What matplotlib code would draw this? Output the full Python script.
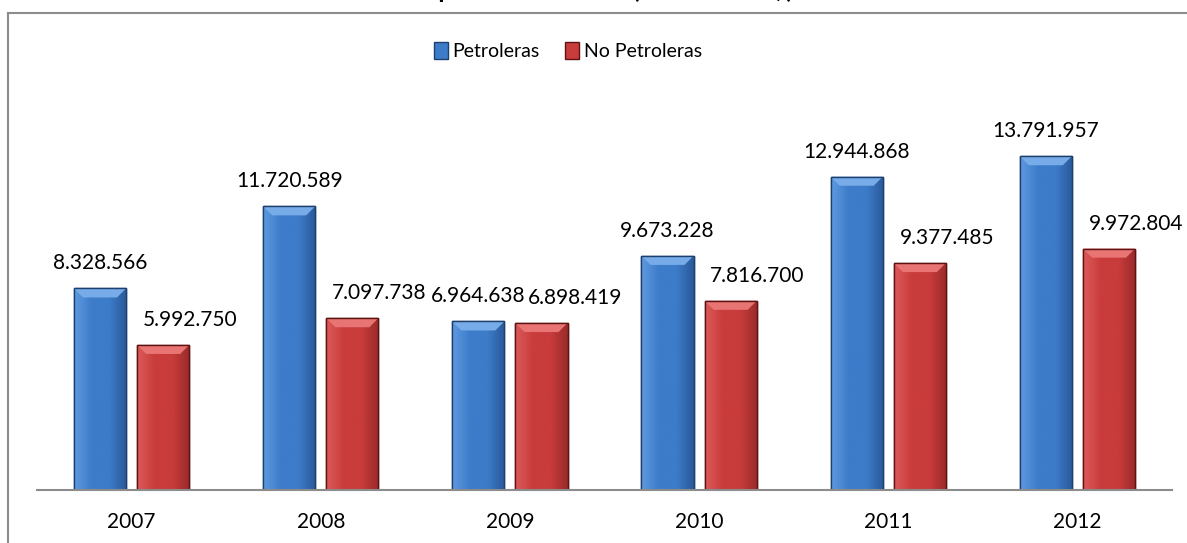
import numpy as np
import matplotlib
matplotlib.use("Agg")
import matplotlib.pyplot as plt
from matplotlib.lines import Line2D
from matplotlib.patches import Polygon, Patch
from matplotlib.colors import LinearSegmentedColormap

years = ["2007", "2008", "2009", "2010", "2011", "2012"]
petroleras = [8328566, 11720589, 6964638, 9673228, 12944868, 13791957]
no_petroleras = [5992750, 7097738, 6898419, 7816700, 9377485, 9972804]
series_names = ["Petroleras", "No Petroleras"]
title = "Exportaciones FOB (Miles de US$)"

def fmt(v):
    return f"{v:,}".replace(",", ".")

plt.rcParams['font.family'] = ['Lato', 'DejaVu Sans']

W, H = 1187, 543
fig = plt.figure(figsize=(W / 100, H / 100), dpi=100)
ax_l, ax_r, ax_b, ax_t = 37, 1172, 490, 65
ax = fig.add_axes([ax_l / W, 1 - ax_b / H, (ax_r - ax_l) / W, (ax_b - ax_t) / H])

x = np.arange(len(years))
bw = 0.275
off = 0.167
ymax = (ax_b - ax_t) / 24.2 * 1e6
ax.set_xlim(-0.5, len(years) - 0.5)
ax.set_ylim(0, ymax)

styles = [
    dict(face="#3d7cc9", light="#5f9ae0", dark="#2a5a9a", edge="#1d3f6e", bevel="#78ace8"),
    dict(face="#c93c3c", light="#dc5a5a", dark="#9a2a2a", edge="#5e1212", bevel="#e87474"),
]

px_per_x = (ax_r - ax_l) / len(years)
px_per_y = (ax_b - ax_t) / ymax

labels = {0: [], 1: []}
for si, (vals, st) in enumerate(zip([petroleras, no_petroleras], styles)):
    xs = x + (-off if si == 0 else off)
    bars = ax.bar(xs, vals, width=bw, color=st["face"], edgecolor=st["edge"],
                  linewidth=1.0, zorder=2, label=series_names[si])
    cmap = LinearSegmentedColormap.from_list("g", [st["light"], st["face"], st["face"], st["dark"]])
    grad = np.linspace(0, 1, 64).reshape(1, -1)
    for b in bars:
        x0, w_, h_ = b.get_x(), b.get_width(), b.get_height()
        im = ax.imshow(grad, cmap=cmap, aspect="auto", extent=(x0, x0 + w_, 0, h_),
                       zorder=2.1, interpolation="bicubic")
        im.set_clip_path(b)
        bx = 9 / px_per_x
        by = 9 / px_per_y
        poly = Polygon([(x0, h_), (x0 + w_, h_), (x0 + w_ - bx, h_ - by), (x0 + bx, h_ - by)],
                       closed=True, facecolor=st["bevel"], edgecolor="none", zorder=2.2)
        ax.add_patch(poly)
        ax.add_patch(Polygon([(x0, h_), (x0 + w_, h_), (x0 + w_, 0), (x0, 0)], closed=True,
                             facecolor="none", edgecolor=st["edge"], linewidth=1.0, zorder=2.3))
        if si == 0:
            t = ax.annotate(fmt(int(h_)), (x0 + w_ / 2, h_), xytext=(0, 18), textcoords="offset points",
                            ha="center", va="center", fontsize=15, color="#000000")
        else:
            t = ax.annotate(fmt(int(h_)), (x0 + 0.03, h_), xytext=(0, 18), textcoords="offset points",
                            ha="left", va="center", fontsize=15, color="#000000")
        labels[si].append(t)

for s in ["top", "right", "left"]:
    ax.spines[s].set_visible(False)
ax.spines["bottom"].set_color("#8c8c8c")
ax.spines["bottom"].set_linewidth(1.5)
ax.set_yticks([])
ax.set_xticks(x)
ax.set_xticklabels(years, fontsize=15)
ax.tick_params(axis="x", length=0, pad=16)
ax.patch.set_visible(False)

# avoid label overlap: push red labels right of blue labels when they collide
fig.canvas.draw()
r = fig.canvas.get_renderer()
for tb, tr in zip(labels[0], labels[1]):
    bb = tb.get_window_extent(r)
    rb = tr.get_window_extent(r)
    if rb.x0 < bb.x1 + 2 and rb.y1 > bb.y0 and rb.y0 < bb.y1:
        shift = bb.x1 + 2 - rb.x0
        tr.set_position((tr.xyann[0] + shift * 72 / 100, tr.xyann[1]))

handles = [Patch(facecolor=styles[0]["face"], edgecolor=styles[0]["edge"]),
           Patch(facecolor=styles[1]["face"], edgecolor=styles[1]["edge"])]
fig.legend(handles, series_names, loc="center", bbox_to_anchor=(568 / W, 1 - 51 / H),
           ncol=2, frameon=False, fontsize=14, handlelength=0.7, handleheight=1.0,
           handletextpad=0.25, columnspacing=1.3)

# outer border
fig.add_artist(Line2D([8 / W, 1], [1 - 12.5 / H, 1 - 12.5 / H], color="#8c8c8c", lw=1.5))
fig.add_artist(Line2D([8 / W, 8 / W], [0, 1 - 12.5 / H], color="#8c8c8c", lw=1.5))

fig.text(602 / W, 1 + 1.5 / H, title, ha="center", va="baseline", fontsize=18,
         fontweight="bold", color="#000000")

fig.savefig("out.png", dpi=100)
